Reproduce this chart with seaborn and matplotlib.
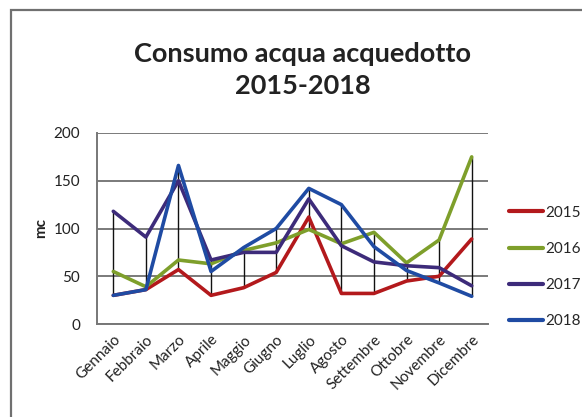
import matplotlib
matplotlib.use("Agg")
import matplotlib.pyplot as plt
from matplotlib.patches import Rectangle
from matplotlib.lines import Line2D
import numpy as np
import pandas as pd
import seaborn as sns

# Monthly water consumption (mc) from the aqueduct, 2015-2018
months = ["Gennaio", "Febbraio", "Marzo", "Aprile", "Maggio", "Giugno",
          "Luglio", "Agosto", "Settembre", "Ottobre", "Novembre", "Dicembre"]
years = ["2015", "2016", "2017", "2018"]
c2015 = [30, 36, 57, 30, 38, 54, 112, 32, 32, 45, 50, 89]
c2016 = [55, 39, 67, 63, 77, 85, 99, 84, 96, 64, 88, 175]
c2017 = [118, 91, 150, 67, 75, 75, 131, 82, 65, 61, 59, 40]
c2018 = [30, 36, 166, 55, 80, 100, 142, 125, 81, 56, 43, 29]
y_ticks = [0, 50, 100, 150, 200]

colors = ["#B3191C", "#7E9F2B", "#3D2B7A", "#1F4BA3"]

series = [c2015, c2016, c2017, c2018]
df = pd.DataFrame({
    "mese": np.tile(np.arange(len(months)), len(years)),
    "anno": np.repeat(years, len(months)),
    "mc": np.concatenate(series),
})

sns.set_theme(style="white")
plt.rcParams["font.family"] = ["Lato", "DejaVu Sans"]

fig = plt.figure(figsize=(5.82, 4.17), dpi=100)
fig.patch.set_facecolor("white")
ax = fig.add_axes([97 / 582, 1 - 324 / 417, (488 - 97) / 582, (324 - 133) / 417])

# High-low lines joining the extremes of each month
arr = np.array(series)
ax.vlines(np.arange(len(months)), arr.min(axis=0), arr.max(axis=0),
          colors="#111111", linewidth=1.0, zorder=2)

sns.lineplot(data=df, x="mese", y="mc", hue="anno", palette=colors,
             linewidth=2.6, ax=ax, legend=False, zorder=3)

ax.set_xlim(-0.5, len(months) - 0.5)
ax.set_ylim(0, 200)
ax.set_yticks(y_ticks)
ax.set_yticklabels([str(v) for v in y_ticks], fontsize=11, color="#222222")
ax.set_xticks(np.arange(len(months)))
ax.set_xticklabels(months, rotation=45, ha="right", rotation_mode="anchor",
                   fontsize=11, color="#222222")
ax.tick_params(axis="x", length=0, pad=6)
ax.tick_params(axis="y", length=4, width=1.2, color="#777777", pad=8, direction="out")
ax.set_xlabel("")
ax.set_ylabel("mc", fontsize=11, fontweight="bold", labelpad=4, color="#222222")
ax.yaxis.grid(True, color="#7a7a7a", linewidth=1.4)
ax.set_axisbelow(True)
for side in ["top", "right"]:
    ax.spines[side].set_visible(False)
ax.spines["left"].set_color("#777777")
ax.spines["left"].set_linewidth(1.4)
ax.spines["bottom"].set_color("#777777")
ax.spines["bottom"].set_linewidth(1.4)

# Legend on the right
handles = [Line2D([0], [0], color=c, linewidth=3.0) for c in colors]
fig.legend(handles, years, loc="center left", bbox_to_anchor=(509 / 582, 1 - 267 / 417),
           frameon=False, fontsize=11, handlelength=2.2, handletextpad=0.15,
           labelspacing=1.45, borderpad=0, borderaxespad=0)

fig.text(303 / 582, 1 - 70 / 417, "Consumo acqua acquedotto\n2015-2018",
         ha="center", va="center", fontsize=19.5, fontweight="bold",
         color="#222222", linespacing=1.4)

# Chart-area frame
fig.patches.append(Rectangle((11 / 582, -0.1), 1.2, 1 - 10 / 417 + 0.1,
                             transform=fig.transFigure, fill=False,
                             edgecolor="#707070", linewidth=1.6))

fig.savefig("out.png", dpi=100, facecolor="white")
